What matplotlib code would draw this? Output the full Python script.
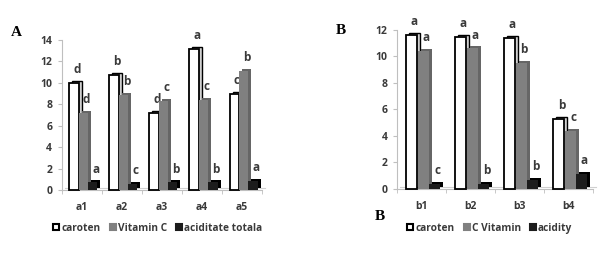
import matplotlib
matplotlib.use("Agg")
import matplotlib.pyplot as plt
from matplotlib.patches import Patch
from matplotlib.transforms import offset_copy
import numpy as np

plt.rcParams['font.family'] = ['Open Sans', 'DejaVu Sans']

# panel A data
cats_a = ["a1", "a2", "a3", "a4", "a5"]
caroten_a = [10.0, 10.7, 7.2, 13.2, 9.0]
vitc_a = [7.2, 8.9, 8.3, 8.4, 11.1]
acid_a = [0.7, 0.6, 0.7, 0.7, 0.8]
let_caroten_a = ["d", "b", "d", "a", "c"]
let_vitc_a = ["d", "b", "c", "c", "b"]
let_acid_a = ["a", "c", "b", "b", "a"]
names_a = ["caroten", "Vitamin C", "aciditate totala"]

# panel B data
cats_b = ["b1", "b2", "b3", "b4"]
caroten_b = [11.6, 11.5, 11.4, 5.3]
vitc_b = [10.4, 10.6, 9.5, 4.4]
acid_b = [0.4, 0.4, 0.7, 1.1]
let_caroten_b = ["a", "a", "a", "b"]
let_vitc_b = ["a", "a", "b", "c"]
let_acid_b = ["c", "b", "b", "a"]
names_b = ["caroten", "C Vitamin", "acidity"]

face = ["white", "#808080", "#1c1c1c"]
side = ["#d0d0d0", "#666666", "#000000"]
edge = ["black", "none", "none"]
shift = [-0.2, 0.04, 0.27]
width = 0.23
txt = "#3a3a3a"

fig = plt.figure(figsize=(6.16, 2.56), dpi=100)


def panel(rect, cats, series, letters, names, ymax, leg_x):
    ax = fig.add_axes(rect)
    x = np.arange(len(cats))
    depth = offset_copy(ax.transData, fig=fig, x=3, y=2, units='dots')
    # floor
    ends = [-0.5, len(cats) - 0.5]
    ax.plot(ends, [0, 0], color="#bfbfbf", lw=0.8, zorder=1, clip_on=False)
    ax.plot(ends, [0, 0], color="#d0d0d0", lw=0.8, zorder=1, clip_on=False,
            transform=depth)
    for i, vals in enumerate(series):
        pos = x + shift[i]
        ax.bar(pos, vals, width, color=side[i], edgecolor=edge[i],
               linewidth=1.0, transform=depth, zorder=2 + 2 * i, clip_on=False)
        ax.bar(pos, vals, width, color=face[i], edgecolor=edge[i],
               linewidth=1.3, zorder=3 + 2 * i, clip_on=False)
        for p, v, s in zip(pos, vals, letters[i]):
            ax.annotate(s, (p, v), xytext=(2, 5), textcoords="offset points",
                        ha="center", va="bottom", fontsize=8.5,
                        fontweight="bold", color=txt)
    ax.set_xlim(-0.5, len(cats) - 0.5)
    ax.set_ylim(0, ymax)
    ax.set_yticks(np.arange(0, ymax + 1, 2))
    ax.set_xticks(x)
    ax.set_xticklabels(cats)
    ax.set_xticks(np.arange(-0.5, len(cats)), minor=True)
    ax.tick_params(axis="x", which="major", length=0, pad=9,
                   labelsize=7.5, labelcolor=txt)
    ax.tick_params(axis="x", which="minor", length=3, color="#bfbfbf",
                   direction="out")
    ax.tick_params(axis="y", length=3, color="#bfbfbf", labelsize=7.5,
                   labelcolor=txt, pad=4)
    for lab in ax.get_xticklabels() + ax.get_yticklabels():
        lab.set_fontweight("bold")
    for s in ["top", "right", "bottom"]:
        ax.spines[s].set_visible(False)
    ax.spines["left"].set_color("#bfbfbf")
    ax.spines["left"].set_linewidth(0.8)
    handles = [Patch(facecolor=face[i], edgecolor="black" if i == 0 else face[i],
                     linewidth=1.5, label=names[i]) for i in range(3)]
    fig.legend(handles=handles, loc="center", bbox_to_anchor=(leg_x, 0.108),
               ncol=3, frameon=False, handlelength=0.6,
               handleheight=0.6, handletextpad=0.2, columnspacing=0.9,
               labelcolor=txt, prop={"weight": "bold", "size": 7.3})
    return ax


panel([0.1006, 0.258, 0.325, 0.586], cats_a, [caroten_a, vitc_a, acid_a],
      [let_caroten_a, let_vitc_a, let_acid_a], names_a, 14, 0.256)
panel([0.6445, 0.262, 0.318, 0.621], cats_b, [caroten_b, vitc_b, acid_b],
      [let_caroten_b, let_vitc_b, let_acid_b], names_b, 12, 0.795)

for s, (fx, fy) in zip(["A", "B", "B"], [(16, 33), (341, 30), (380, 217)]):
    fig.text(fx / 616, 1 - fy / 256, s, family="Liberation Serif",
             fontweight="bold", fontsize=11, ha="center", va="center")

fig.savefig("out.png", dpi=100)
